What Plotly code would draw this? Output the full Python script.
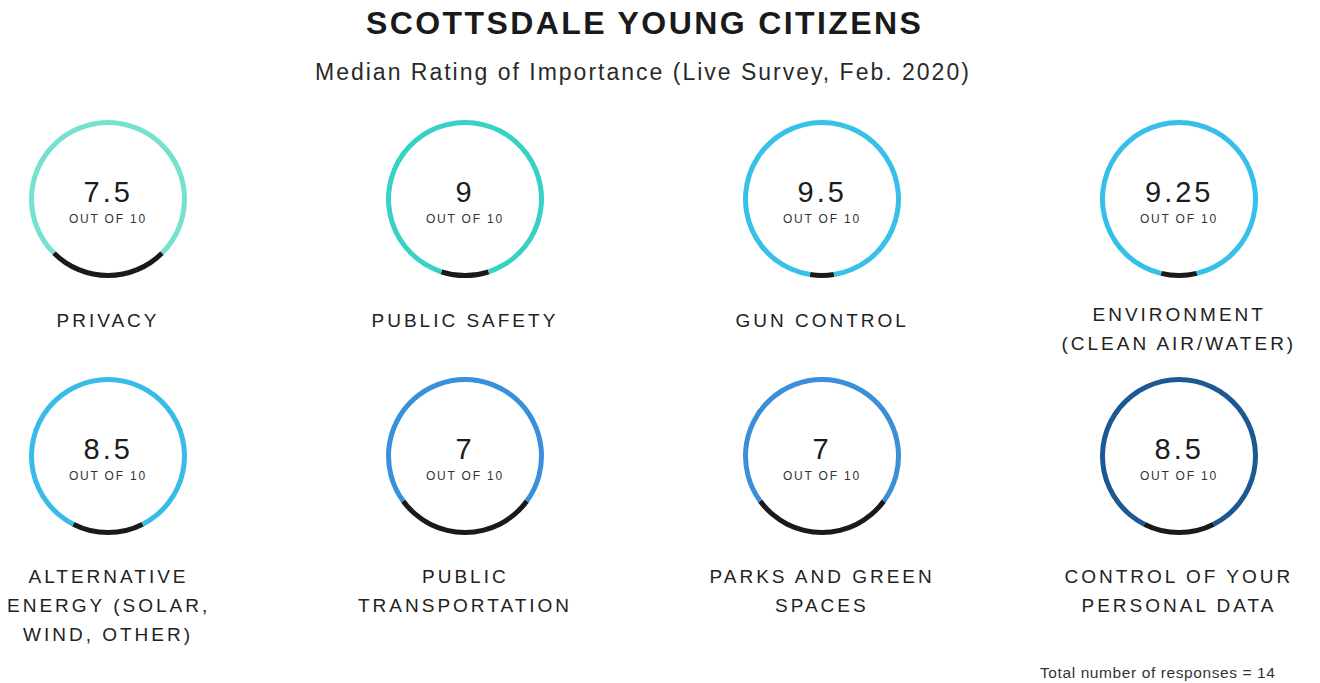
import json
import plotly.graph_objects as go

# ---- data -------------------------------------------------------------
topics = [
    ["PRIVACY"],
    ["PUBLIC SAFETY"],
    ["GUN CONTROL"],
    ["ENVIRONMENT", "(CLEAN AIR/WATER)"],
    ["ALTERNATIVE", "ENERGY (SOLAR,", "WIND, OTHER)"],
    ["PUBLIC", "TRANSPORTATION"],
    ["PARKS AND GREEN", "SPACES"],
    ["CONTROL OF YOUR", "PERSONAL DATA"],
]
ratings = [7.5, 9, 9.5, 9.25, 8.5, 7, 7, 8.5]
scale_max = 10
ring_colors = ["#74e2cf", "#36d2c4", "#37c0e8", "#36bfe8",
               "#37bce9", "#3a8fdb", "#3b8fd9", "#1c5893"]
responses = 14

title = "SCOTTSDALE YOUNG CITIZENS"
subtitle = "Median Rating of Importance (Live Survey, Feb. 2020)"

# ---- layout constants (pixels) ---------------------------------------
W, H = 1320, 683
col_x = [108, 465, 822, 1179]
row_y = [199, 456]
ring_r = 79
ring_w = 5
label_top = [320, 576]
line_gap = 29
rest_color = "#1a1a1a"
ink = "#1e1e1e"


def px(x):
    return x / W


def py(y):
    return 1 - y / H


fig = go.Figure()
annotations = []
spacing = {}


def add_text(text, x, y, size, color=ink, weight="normal", family="Liberation Sans",
             letter=0.0):
    annotations.append(dict(
        text=text, x=px(x), y=py(y), xref="paper", yref="paper",
        xanchor="center", yanchor="middle", showarrow=False,
        font=dict(family=family, size=size, color=color, weight=weight),
    ))
    spacing[text] = letter


for i, (lines, value, color) in enumerate(zip(topics, ratings, ring_colors)):
    row, col = divmod(i, 4)
    cx, cy = col_x[col], row_y[row]
    remaining = scale_max - value
    # the unfilled part of the scale sits centred at the bottom of the ring
    rotation = 180 - 180 * remaining / scale_max
    fig.add_trace(go.Pie(
        values=[remaining, value],
        marker=dict(colors=[rest_color, color], line=dict(width=0)),
        hole=(ring_r - ring_w) / ring_r,
        sort=False, direction="clockwise", rotation=rotation,
        textinfo="none", hoverinfo="skip", showlegend=False,
        domain=dict(x=[px(cx - ring_r), px(cx + ring_r)],
                    y=[py(cy + ring_r), py(cy - ring_r)]),
    ))
    add_text(f"{value:g}", cx, cy - 7, 29, color="#1c1c1c", letter=3)
    add_text("OUT OF 10" + "\u200b" * i, cx, cy + 20, 12, color="#333333", letter=1.8)

    if row == 0:
        first = label_top[0] - (len(lines) - 1) * 6
    else:
        first = label_top[1]
    for k, line in enumerate(lines):
        add_text(line, cx, first + k * line_gap, 19, color="#222222", letter=3)

add_text(title, 644, 23, 32, color="#1a1a1a", weight="bold", letter=2.4)
add_text(subtitle, 643, 72, 23, color="#2a2a2a", letter=2.0)
add_text(f"Total number of responses = {responses}", 1158, 672, 15.5,
         color="#333333", letter=0.6)

fig.update_layout(
    width=W, height=H,
    margin=dict(l=0, r=0, t=0, b=0),
    paper_bgcolor="white", plot_bgcolor="white",
    annotations=annotations,
)

spacing_js = json.dumps({k.replace("\u200b", ""): v for k, v in spacing.items()})
post = """
var gd = document.getElementById('{plot_id}');
var sp = %s;
function applySpacing() {
  gd.querySelectorAll('.annotation-text').forEach(function (t) {
    var key = t.textContent.replace(/\\u200b/g, '');
    if (sp.hasOwnProperty(key)) { t.style.letterSpacing = sp[key] + 'px'; }
  });
}
applySpacing();
gd.on('plotly_afterplot', applySpacing);
""" % spacing_js

fig.write_html("out.html", post_script=post)
